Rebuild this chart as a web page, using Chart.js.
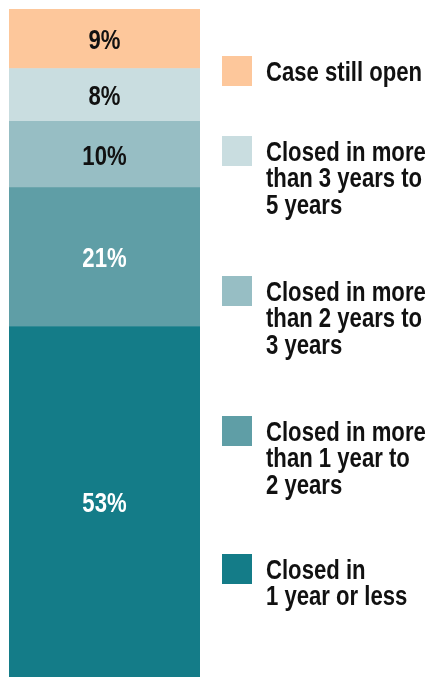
<!DOCTYPE html>
<html lang="en">
<head>
    <meta charset="UTF-8">
    <title>Case closure time</title>
    <script src="https://cdn.jsdelivr.net/npm/chart.js"></script>
    <style>
        body { margin: 0; background: #fff; }
        #wrap { position: relative; width: 428px; height: 677px; overflow: hidden; }
        #legend { position: absolute; left: 0; top: 0; }
        .item { position: absolute; left: 222px; display: flex; align-items: flex-start; }
        .box { width: 30px; height: 30px; flex: none; }
        .txt { margin-left: 13.5px; margin-top: 2.5px; font: bold 28px "Liberation Sans", Arial, sans-serif; line-height: 26.7px; color: #111; white-space: nowrap; transform: scaleX(0.79); transform-origin: left top; }
    </style>
</head>
<body>
    <div id="wrap">
        <canvas id="chart"></canvas>
        <div id="legend"></div>
    </div>
    <script>
        // bottom of the stack first
        const categories = [
            ['Closed in', '1 year or less'],
            ['Closed in more', 'than 1 year to', '2 years'],
            ['Closed in more', 'than 2 years to', '3 years'],
            ['Closed in more', 'than 3 years to', '5 years'],
            ['Case still open']
        ];
        const values = [53, 21, 10, 8, 9];
        const colors = ['#147c88', '#5f9ea6', '#97bec4', '#c9dde0', '#fdc79b'];
        const labelColors = ['#fff', '#fff', '#111', '#111', '#111'];

        const legendTops = [554, 416, 276, 136, 56];
        const FONT = '"Liberation Sans", Arial, sans-serif';
        const SIZE = 28;
        const SQUEEZE = 0.79; // no narrow face installed, so squash the regular bold

        const segLabels = {
            id: 'segLabels',
            afterDatasetsDraw(chart) {
                const ctx = chart.ctx;
                chart.data.datasets.forEach((ds, i) => {
                    const bar = chart.getDatasetMeta(i).data[0];
                    ctx.save();
                    // centre the cap height on the segment
                    ctx.translate(bar.x, (bar.y + bar.base) / 2 + SIZE * 0.716 / 2);
                    ctx.scale(SQUEEZE, 1);
                    ctx.font = 'bold ' + SIZE + 'px ' + FONT;
                    ctx.textAlign = 'center';
                    ctx.textBaseline = 'alphabetic';
                    ctx.fillStyle = labelColors[i];
                    ctx.fillText(ds.data[0] + '%', 0, 0);
                    ctx.restore();
                });
            }
        };

        new Chart(document.getElementById('chart'), {
            type: 'bar',
            data: {
                labels: [''],
                datasets: values.map((v, i) => ({
                    label: categories[i],
                    data: [v],
                    backgroundColor: colors[i],
                    borderWidth: 0,
                    barPercentage: 1,
                    categoryPercentage: 1
                }))
            },
            options: {
                responsive: true,
                maintainAspectRatio: false,
                animation: false,
                layout: { padding: { left: 9, right: 228, top: 9, bottom: 0 } },
                plugins: { legend: { display: false }, tooltip: { enabled: false } },
                scales: {
                    x: { stacked: true, display: false },
                    y: { stacked: true, display: false, min: 0, max: 101 }
                }
            },
            plugins: [segLabels]
        });

        const legend = document.getElementById('legend');
        categories.forEach((lines, i) => {
            const item = document.createElement('div');
            item.className = 'item';
            item.style.top = legendTops[i] + 'px';
            item.innerHTML = '<div class="box" style="background:' + colors[i] + '"></div>' +
                '<div class="txt">' + lines.join('<br>') + '</div>';
            legend.appendChild(item);
        });
    </script>
</body>
</html>
